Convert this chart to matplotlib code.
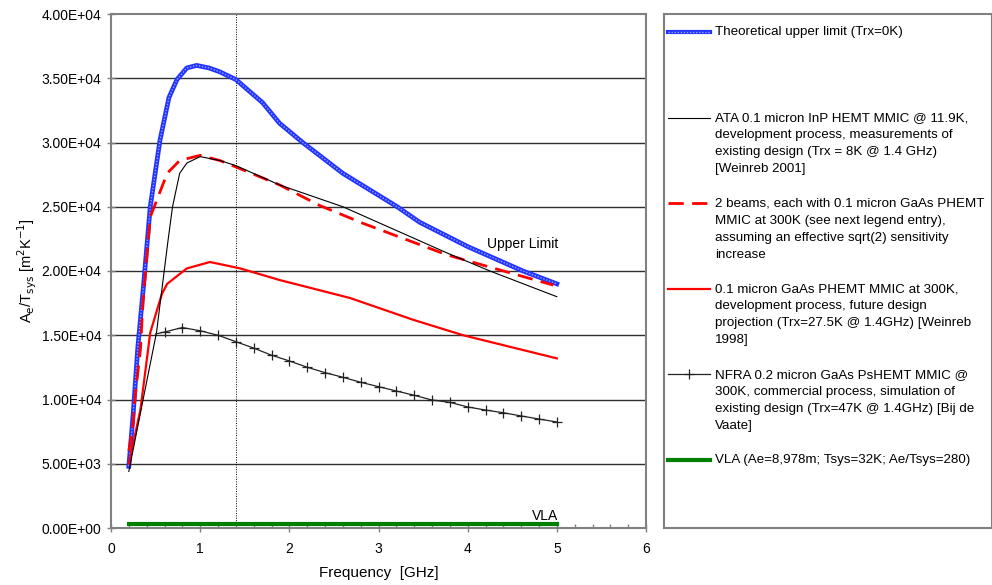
import numpy as np
import matplotlib
matplotlib.use('Agg')
import matplotlib.pyplot as plt
from matplotlib.ticker import FuncFormatter, MultipleLocator

plt.rcParams['font.family'] = ['Liberation Sans', 'DejaVu Sans']

# Theoretical upper limit (Trx=0K)
freq_upper = [0.2, 0.25, 0.3, 0.36, 0.44, 0.55, 0.65, 0.74, 0.85, 0.96, 1.1, 1.22,
              1.4, 1.7, 1.89, 2.15, 2.6, 3.21, 3.46, 4.0, 4.62, 5.0]
aet_upper = [4800, 9000, 14000, 18500, 25000, 30200, 33500, 34900, 35800, 36000, 35800, 35500,
             34900, 33100, 31500, 30000, 27600, 25000, 23800, 21900, 20000, 19000]

# ATA InP HEMT
freq_ata = [0.2, 0.36, 0.51, 0.64, 0.69, 0.77, 0.85, 1.0, 1.22, 1.4, 1.89, 2.6, 3.77, 4.25, 5.0]
aet_ata = [4400, 10000, 15200, 22400, 25000, 27600, 28400, 28900, 28600, 28200, 26700, 25000,
           21400, 20000, 18000]

# 2 beams GaAs PHEMT
freq_2beam = [0.2, 0.25, 0.27, 0.33, 0.36, 0.44, 0.63, 0.77, 1.0, 1.22, 1.4, 1.89, 2.34, 2.83,
              3.77, 4.96]
aet_2beam = [6000, 8200, 10200, 13900, 17700, 24200, 27600, 28600, 29000, 28600, 28100, 26700,
             25100, 23700, 21250, 18900]

# 0.1 micron GaAs PHEMT at 300K
freq_gaas = [0.2, 0.33, 0.44, 0.57, 0.63, 0.85, 1.11, 1.45, 1.89, 2.68, 3.39, 3.95, 5.0]
aet_gaas = [5000, 9200, 15200, 18200, 19000, 20200, 20700, 20200, 19300, 17900, 16200, 15000, 13200]

# NFRA GaAs PsHEMT
freq_nfra = [0.5, 0.6, 0.8, 1.0, 1.2, 1.4, 1.6, 1.8, 2.0, 2.2, 2.4, 2.6, 2.8, 3.0, 3.2, 3.4,
             3.6, 3.8, 4.0, 4.2, 4.4, 4.6, 4.8, 5.0]
aet_nfra = [15100, 15250, 15600, 15350, 15000, 14500, 14000, 13450, 13000, 12510, 12090, 11730,
            11340, 11000, 10660, 10330, 9960, 9780, 9420, 9180, 8970, 8720, 8480, 8250]

# VLA
freq_vla = [0.2, 5.0]
aet_vla = [280, 280]

legend_texts = [
    "Theoretical upper limit (Trx=0K)",
    "ATA 0.1 micron InP HEMT MMIC @ 11.9K,\ndevelopment process, measurements of\n"
    "existing design (Trx = 8K @ 1.4 GHz)\n[Weinreb 2001]",
    "2 beams, each with 0.1 micron GaAs PHEMT\nMMIC at 300K (see next legend entry),\n"
    "assuming an effective sqrt(2) sensitivity\nincrease",
    "0.1 micron GaAs PHEMT MMIC at 300K,\ndevelopment process, future design\n"
    "projection (Trx=27.5K @ 1.4GHz) [Weinreb\n1998]",
    "NFRA 0.2 micron GaAs PsHEMT MMIC @\n300K, commercial process, simulation of\n"
    "existing design (Trx=47K @ 1.4GHz) [Bij de\nVaate]",
    "VLA (Ae=8,978m; Tsys=32K; Ae/Tsys=280)",
]

W, H = 992, 585
fig = plt.figure(figsize=(W / 100, H / 100), dpi=100)
ax = fig.add_axes([111 / W, (H - 528) / H, (646 - 111) / W, (528 - 14) / H])

grid_col = '#303030'
for yv in np.arange(5000, 40000, 5000):
    ax.axhline(yv, color=grid_col, lw=1.0, zorder=1)
ax.axvline(1.4, color='black', lw=0.7, ls=(0, (1, 1.5)), zorder=1)

blue = '#2233ff'
ax.plot(freq_upper, aet_upper, color=blue, lw=3.4, zorder=3)
ax.plot(freq_upper, aet_upper, color='#9aa6ff', lw=1.0, ls=(0, (1, 1.2)), zorder=4)
ax.plot(freq_ata, aet_ata, color='black', lw=0.8, zorder=5)
ax.plot(freq_2beam, aet_2beam, color='#ff0000', lw=2.0, ls=(0, (5.5, 3)), zorder=4)
ax.plot(freq_gaas, aet_gaas, color='#ff0000', lw=1.6, zorder=4)
ax.plot(freq_nfra, aet_nfra, color='#222222', lw=0.9, marker='+', ms=7, mew=0.9,
        markevery=list(range(1, len(freq_nfra))), zorder=5)
ax.plot(freq_vla, aet_vla, color='#008000', lw=3.0, zorder=5)

ax.text(4.62, 22100, 'Upper Limit', fontsize=10, ha='center', va='center')
ax.text(4.87, 950, 'VLA', fontsize=10, ha='center', va='center')

ax.set_xlim(0, 6)
ax.set_ylim(0, 40000)
ax.xaxis.set_major_locator(MultipleLocator(1))
ax.xaxis.set_minor_locator(MultipleLocator(0.2))
ax.yaxis.set_major_locator(MultipleLocator(5000))
ax.yaxis.set_major_formatter(FuncFormatter(lambda v, p: '%.2E' % v))
ax.tick_params(axis='both', which='major', direction='inout', length=6, width=1,
               color='#808080', labelsize=10)
ax.tick_params(axis='x', which='major', pad=7)
ax.tick_params(axis='y', which='major', pad=4)
ax.tick_params(axis='x', which='minor', direction='in', length=3, width=1, color='#808080')
for s in ax.spines.values():
    s.set_color('#808080')
    s.set_linewidth(1.5)

ax.set_xlabel('Frequency  [GHz]', fontsize=11, labelpad=7)
ax.set_ylabel(r'A$_\mathrm{e}$/T$_\mathrm{sys}$ [m$^2$K$^{-1}$]', fontsize=10.5, labelpad=2)

# legend box drawn in pixel units
lax = fig.add_axes([664 / W, (H - 528) / H, (992 - 664) / W, (528 - 14) / H])
lax.set_xlim(0, 328)
lax.set_ylim(514, 0)
lax.set_xticks([])
lax.set_yticks([])
for s in lax.spines.values():
    s.set_color('#808080')
    s.set_linewidth(1.5)

row_step = 85.6
handles = [
    dict(color=blue, lw=3.0),
    dict(color='black', lw=0.8),
    dict(color='#ff0000', lw=2.0, ls=(0, (5.5, 3))),
    dict(color='#ff0000', lw=1.6),
    dict(color='#222222', lw=0.9),
    dict(color='#008000', lw=3.0),
]
for i, (txt, st) in enumerate(zip(legend_texts, handles)):
    yy = 18 + i * row_step
    lax.plot([4, 46], [yy, yy], **st)
    if i == 0:
        lax.plot([4, 46], [yy, yy], color='#9aa6ff', lw=1.0, ls=(0, (1, 1.2)))
    if i == 4:
        lax.plot([25], [yy], color='#222222', marker='+', ms=7, mew=0.9)
    lax.text(51, yy - 5.5, txt, fontsize=9.6, va='top', ha='left', linespacing=1.56,
             clip_on=False)

fig.savefig('out.png', dpi=100)
